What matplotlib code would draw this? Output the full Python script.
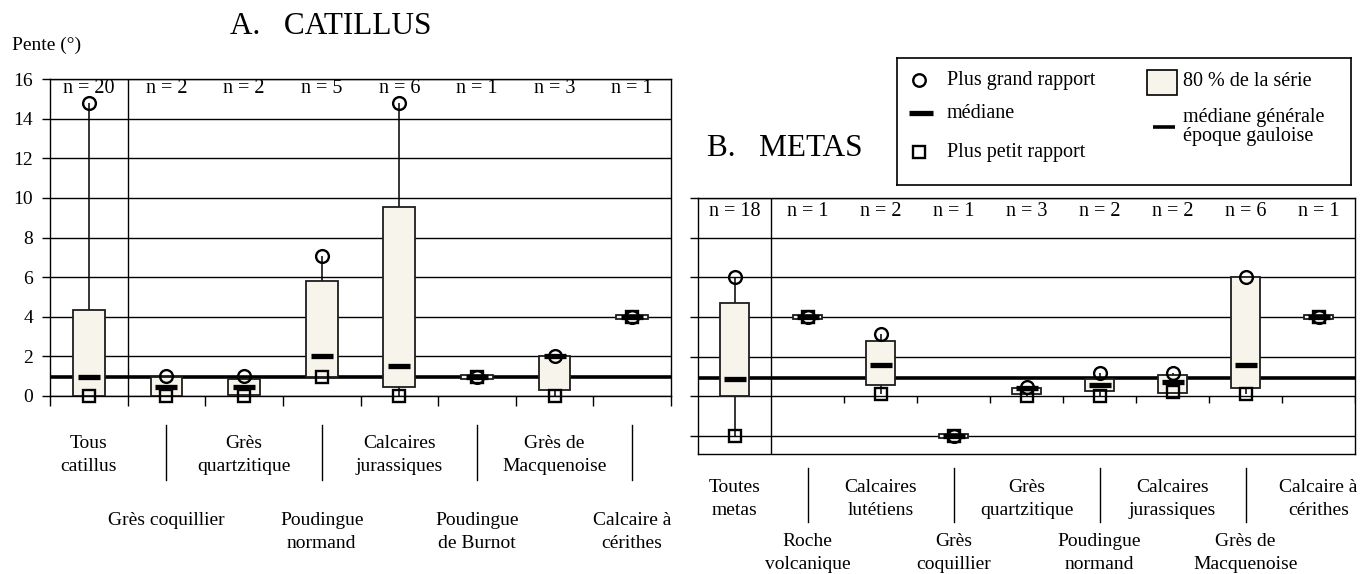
import numpy as np
import matplotlib
matplotlib.use("Agg")
import matplotlib.pyplot as plt
from matplotlib.transforms import blended_transform_factory
from matplotlib.patches import Rectangle

plt.rcParams['font.family'] = ['Liberation Serif', 'DejaVu Serif']

# ---------------- DATA ----------------
# A. CATILLUS
cat_a = ["Tous\ncatillus", "Grès coquillier", "Grès\nquartzitique", "Poudingue\nnormand",
         "Calcaires\njurassiques", "Poudingue\nde Burnot", "Grès de\nMacquenoise", "Calcaire à\ncérithes"]
n_a = [20, 2, 2, 5, 6, 1, 3, 1]
max_a = [14.8, 1.0, 1.0, 7.05, 14.8, 0.95, 2.0, 4.0]
qhi_a = [4.35, 0.95, 0.85, 5.8, 9.55, 1.05, 2.0, 4.1]
qlo_a = [0.0, 0.0, 0.05, 0.95, 0.45, 0.85, 0.3, 3.9]
med_a = [0.95, 0.45, 0.45, 2.0, 1.5, 0.95, 2.0, 4.0]
min_a = [0.0, 0.0, 0.0, 0.95, 0.0, 0.95, 0.0, 4.0]

# B. METAS
cat_b = ["Toutes\nmetas", "Roche\nvolcanique", "Calcaires\nlutétiens", "Grès\ncoquillier",
         "Grès\nquartzitique", "Poudingue\nnormand", "Calcaires\njurassiques", "Grès de\nMacquenoise",
         "Calcaire à\ncérithes"]
n_b = [18, 1, 2, 1, 3, 2, 2, 6, 1]
max_b = [6.0, 4.0, 3.15, -2.0, 0.5, 1.2, 1.2, 6.0, 4.0]
qhi_b = [4.7, 4.1, 2.8, -1.9, 0.45, 0.9, 1.1, 6.0, 4.1]
qlo_b = [0.0, 3.9, 0.6, -2.1, 0.1, 0.25, 0.15, 0.45, 3.9]
med_b = [0.9, 4.0, 1.6, -2.0, 0.45, 0.6, 0.75, 1.6, 4.0]
min_b = [-2.0, 4.0, 0.1, -2.0, 0.0, 0.0, 0.2, 0.1, 4.0]

general_median = 0.95
yticks_a = [0, 2, 4, 6, 8, 10, 12, 14, 16]
yticks_b = [-2, 0, 2, 4, 6, 8, 10]

# ---------------- FIGURE ----------------
W, H = 1364, 574
fig = plt.figure(figsize=(W / 100, H / 100), dpi=100)


def px_axes(x0, y0, x1, y1):
    return fig.add_axes([x0 / W, 1 - y1 / H, (x1 - x0) / W, (y1 - y0) / H])


FS = 14
BOX_FILL = '#F7F4EB'


def draw_panel(ax, n, mx, qhi, qlo, med, mn, labels, ylim, yticks, n_y,
               row_tops, sep_span, ticks_at_zero):
    k = len(n)
    xs = np.arange(k)
    ax.set_xlim(-0.5, k - 0.5)
    ax.set_ylim(*ylim)
    for yv in yticks:
        ax.axhline(yv, color='black', lw=1.0, zorder=1)
    ax.axhline(general_median, color='black', lw=2.6, zorder=2)
    ax.axvline(0.5, color='black', lw=1.0, zorder=2)
    qhi = np.array(qhi); qlo = np.array(qlo)
    ax.vlines(xs, qhi, mx, color='black', lw=1.1, zorder=3)
    ax.vlines(xs, mn, qlo, color='black', lw=1.1, zorder=3)
    ax.bar(xs, qhi - qlo, bottom=qlo, width=0.41, color=BOX_FILL,
           edgecolor='#1e1e1e', lw=1.3, zorder=4)
    ax.plot(xs, med, ls='none', marker='_', ms=16, mew=3.8, color='black', zorder=5)
    ax.plot(xs, mx, ls='none', marker='o', ms=9.2, mfc='none', mec='black', mew=1.7,
            zorder=6, clip_on=False)
    ax.plot(xs, mn, ls='none', marker='s', ms=8.6, mfc='none', mec='black', mew=1.7,
            zorder=6, clip_on=False)
    for i, v in enumerate(n):
        ax.text(i, n_y, f"n = {v}", ha='center', va='center', fontsize=14.5, zorder=7)
    # x ticks at category boundaries
    bounds = np.arange(1, k) + 0.5
    if ticks_at_zero:
        span = ylim[1] - ylim[0]
        ax.vlines(bounds, 0, -0.027 * span, color='black', lw=1.0, zorder=2)
        ax.set_xticks([])
    else:
        ax.set_xticks(np.arange(k + 1) - 0.5)
        ax.set_xticklabels([])
        ax.tick_params(axis='x', direction='out', length=7, width=1)
    # labels below
    tr = blended_transform_factory(ax.transData, fig.transFigure)
    for i, lab in enumerate(labels):
        top = row_tops[i % 2]
        ax.text(i, 1 - top / H, lab, transform=tr, ha='center', va='top',
                fontsize=FS, linespacing=1.45)
    for i in range(1, k, 2):
        ax.plot([i, i], [1 - sep_span[0] / H, 1 - sep_span[1] / H], transform=tr,
                color='black', lw=1.0, clip_on=False)
    for s in ax.spines.values():
        s.set_linewidth(1.0)
        s.set_color('black')


axA = px_axes(50, 79, 671, 396)
draw_panel(axA, n_a, max_a, qhi_a, qlo_a, med_a, min_a, cat_a, (0, 16), yticks_a, 15.5,
           (435, 512), (425, 480), ticks_at_zero=False)
axA.set_yticks(yticks_a)
axA.set_yticklabels([str(v) for v in yticks_a], fontsize=FS)
axA.tick_params(axis='y', direction='out', length=6, width=1, pad=6)

axB = px_axes(698, 198, 1355, 454)
draw_panel(axB, n_b, max_b, qhi_b, qlo_b, med_b, min_b, cat_b, (-2.9, 10), yticks_b, 9.3,
           (479, 533), (468, 522), ticks_at_zero=True)
axB.set_yticks(yticks_b)
axB.set_yticklabels([])
axB.tick_params(axis='y', direction='out', length=6, width=1)

# titles
fig.text(230 / W, 1 - 26 / H, "A.   CATILLUS", ha='left', va='center', fontsize=22.5)
fig.text(707 / W, 1 - 148 / H, "B.   METAS", ha='left', va='center', fontsize=22.5)
fig.text(12 / W, 1 - 45 / H, "Pente (°)", ha='left', va='center', fontsize=14)

# legend box
axL = px_axes(897, 58, 1351, 185)
axL.set_xlim(0, 454)
axL.set_ylim(127, 0)
axL.set_xticks([]); axL.set_yticks([])
for s in axL.spines.values():
    s.set_linewidth(1.2)
    s.set_color('black')
LFS = 14.5
axL.plot([22], [22], ls='none', marker='o', ms=9, mfc='none', mec='black', mew=1.7)
axL.text(50, 23, "Plus grand rapport", va='center', ha='left', fontsize=LFS)
axL.plot([12, 36], [55, 55], color='black', lw=3.8, solid_capstyle='butt')
axL.text(50, 56, "médiane", va='center', ha='left', fontsize=LFS)
axL.plot([22], [94], ls='none', marker='s', ms=8.6, mfc='none', mec='black', mew=1.7)
axL.text(50, 95, "Plus petit rapport", va='center', ha='left', fontsize=LFS)
axL.add_patch(Rectangle((250, 12), 30, 25, facecolor=BOX_FILL, edgecolor='black', lw=1.2))
axL.text(286, 24, "80 % de la série", va='center', ha='left', fontsize=LFS)
axL.plot([256, 278], [69, 69], color='black', lw=2.6, solid_capstyle='butt')
axL.text(286, 69, "médiane générale\népoque gauloise", va='center', ha='left',
         fontsize=LFS, linespacing=1.05)

fig.savefig("out.png", dpi=100)
